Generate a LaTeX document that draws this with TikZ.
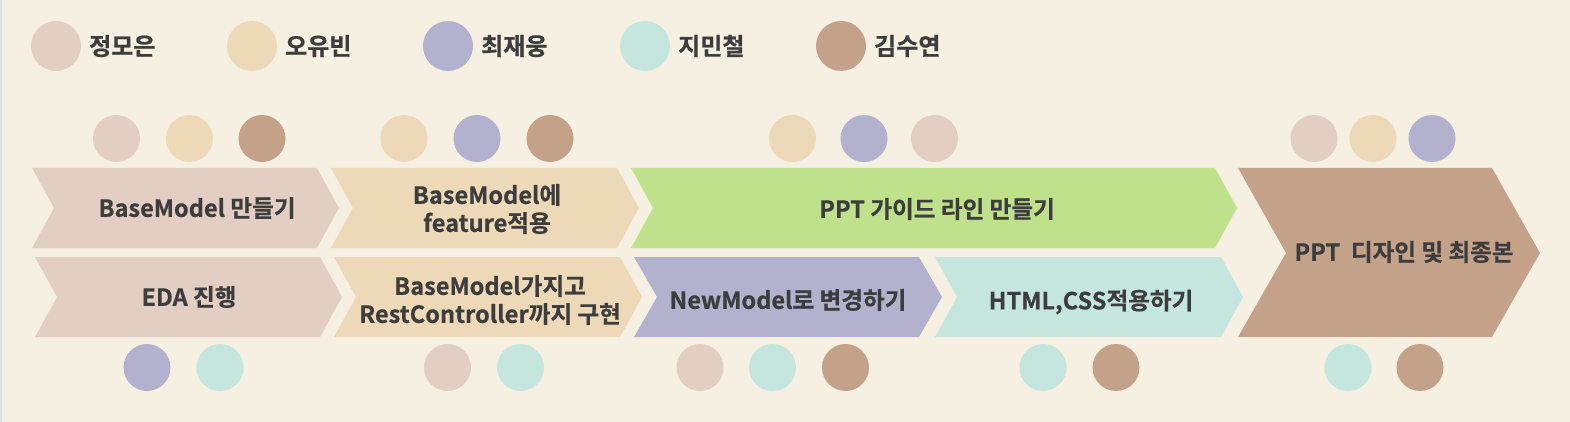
\documentclass[tikz,border=0pt]{standalone}
\usepackage{fontspec}
\newfontfamily\kr{Noto Sans CJK KR Bold}[FakeBold=0.6]
\definecolor{bg}{HTML}{F6F0E3}
\definecolor{cpink}{HTML}{E2CEC3}
\definecolor{ctan}{HTML}{EDD8B7}
\definecolor{clav}{HTML}{B2B2CE}
\definecolor{cmint}{HTML}{C5E6DE}
\definecolor{cbrown}{HTML}{C4A289}
\definecolor{cgreen}{HTML}{BFE18B}
\definecolor{ctext}{HTML}{3D3D3D}
\definecolor{cedge}{HTML}{DCE2EA}
\newcommand\mychev[7]{% x1 x2 ytop ybot ymid d colour
  \fill[#7] (#1,#3) -- (#2,#3) -- ({#2+#6},#5) -- (#2,#4) -- (#1,#4) -- ({#1+#6},#5) -- cycle;}
\tikzset{
  dot/.style={circle,inner sep=0pt,minimum size=47pt,fill=#1},
  ldot/.style={circle,inner sep=0pt,minimum size=50pt,fill=#1},
  ltext/.style={anchor=west,inner sep=0pt,text=ctext,font=\kr\fontsize{24}{28}\selectfont},
  stext/.style={inner sep=0pt,align=center,text=ctext,font=\kr\fontsize{23.6}{28}\selectfont}
}
\begin{document}
\begin{tikzpicture}[x=1pt,y=-1pt]
\fill[bg] (0,0) rectangle (1570,422);
\useasboundingbox (0,0) rectangle (1570,422);
\draw[cedge,line width=1.5pt] (0.75,0) -- (0.75,422);
% legend
\node[ldot=cpink] (l1) at (56,46) {};
\node[ltext] (lt1) at (89,46) {정모은};
\node[ldot=ctan] (l2) at (252,46) {};
\node[ltext] (lt2) at (285,46) {오유빈};
\node[ldot=clav] (l3) at (448,46) {};
\node[ltext] (lt3) at (481,46) {최재웅};
\node[ldot=cmint] (l4) at (645,46) {};
\node[ltext] (lt4) at (678,46) {지민철};
\node[ldot=cbrown] (l5) at (841,46) {};
\node[ltext] (lt5) at (874,46) {김수연};
% chevrons
\mychev{32}{317}{168}{248}{208}{22}{cpink}
\mychev{331}{617}{168}{248}{208}{22}{ctan}
\mychev{631}{1215}{168}{248}{208}{22}{cgreen}
\mychev{35}{320}{257}{337}{297}{22}{cpink}
\mychev{334}{620}{257}{337}{297}{22}{ctan}
\mychev{634}{919}{257}{337}{297}{23}{clav}
\mychev{935}{1221}{257}{337}{297}{22}{cmint}
\mychev{1238}{1492}{168}{337}{253}{48}{cbrown}
% texts
\node[stext] (tA1) at (197,208) {BaseModel 만들기};
\node[stext] (tA2) at (487,209) {BaseModel에\\feature적용};
\node[stext] (tA3) at (937,209) {PPT 가이드 라인 만들기};
\node[stext] (tB1) at (189,297) {EDA 진행};
\node[stext] (tB2) at (490,300) {BaseModel가지고\\RestController까지 구현};
\node[stext] (tB3) at (788,300) {NewModel로 변경하기};
\node[stext] (tB4) at (1091,302) {HTML,CSS적용하기};
\node[stext] (tC) at (1404,252) {PPT\ \ 디자인 및 최종본};
% top dots
\node[dot=cpink] (a1) at (116.5,138.5) {};
\node[dot=ctan] (a2) at (189.5,138.5) {};
\node[dot=cbrown] (a3) at (262,138.5) {};
\node[dot=ctan] (b1) at (404,138.5) {};
\node[dot=clav] (b2) at (477,138.5) {};
\node[dot=cbrown] (b3) at (550,138.5) {};
\node[dot=ctan] (c1) at (792.5,138.5) {};
\node[dot=clav] (c2) at (864,138.5) {};
\node[dot=cpink] (c3) at (934.5,138.5) {};
\node[dot=cpink] (d1) at (1314,138.5) {};
\node[dot=ctan] (d2) at (1373,138.5) {};
\node[dot=clav] (d3) at (1432,138.5) {};
% bottom dots
\node[dot=clav] (e1) at (147,367.5) {};
\node[dot=cmint] (e2) at (220,367.5) {};
\node[dot=cpink] (f1) at (447.5,367.5) {};
\node[dot=cmint] (f2) at (520.5,367.5) {};
\node[dot=cpink] (g1) at (700,367.5) {};
\node[dot=cmint] (g2) at (772.5,367.5) {};
\node[dot=cbrown] (g3) at (845.5,367.5) {};
\node[dot=cmint] (h1) at (1043,367.5) {};
\node[dot=cbrown] (h2) at (1116,367.5) {};
\node[dot=cmint] (i1) at (1348,367.5) {};
\node[dot=cbrown] (i2) at (1420,367.5) {};
\end{tikzpicture}
\end{document}
